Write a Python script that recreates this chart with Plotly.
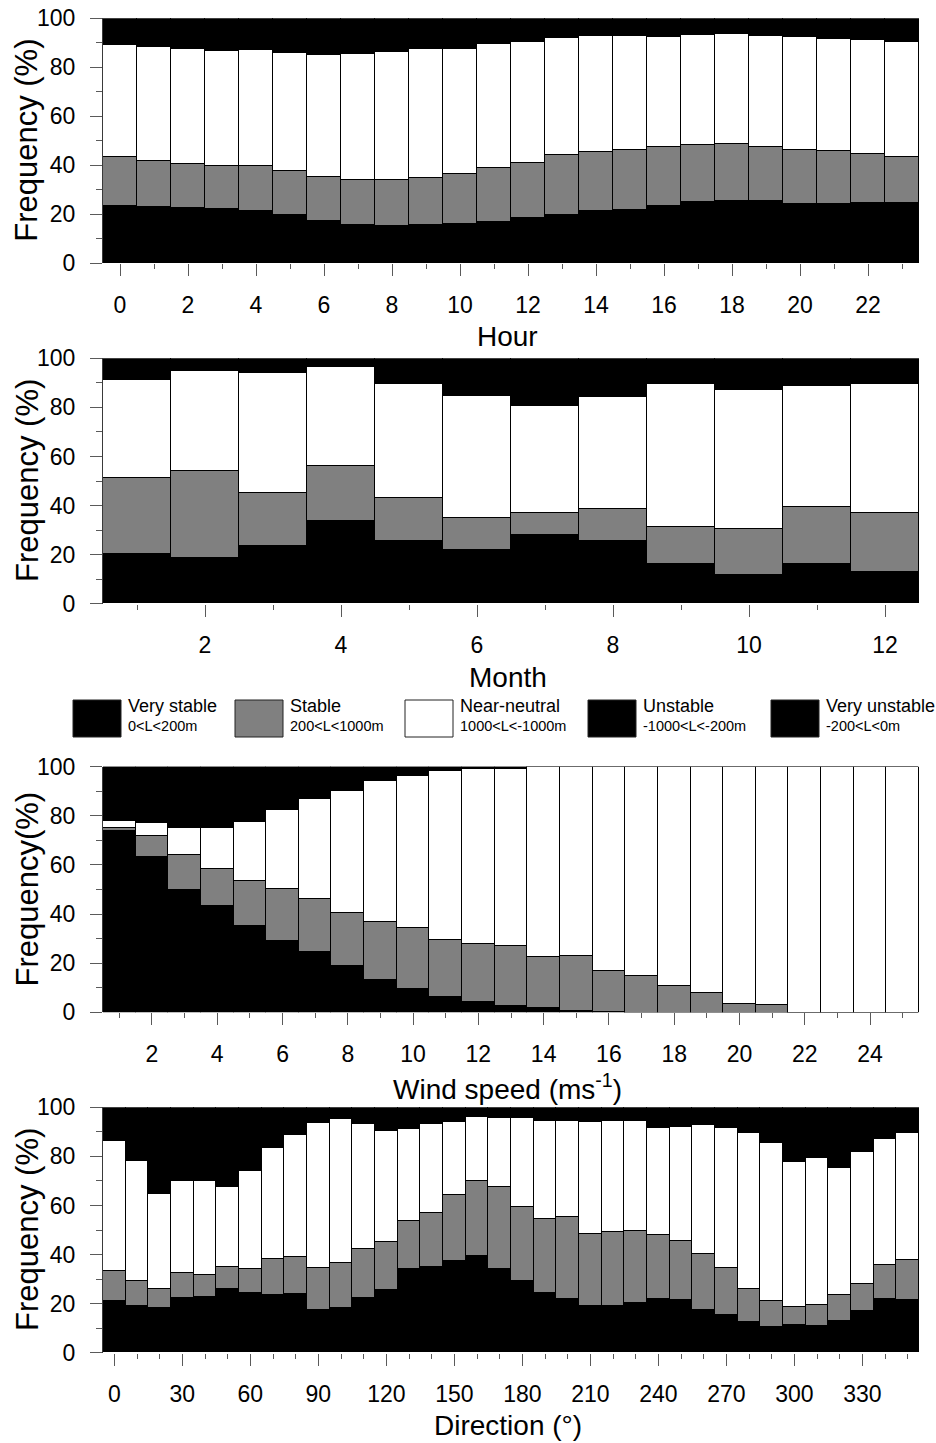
import plotly.graph_objects as go

# Stability classes (Obukhov length L) and their fills
CLASSES = ["Very stable", "Stable", "Near-neutral", "Unstable", "Very unstable"]
L_RANGES = ["0<L<200m", "200<L<1000m", "1000<L<-1000m", "-1000<L<-200m", "-200<L<0m"]
FILLS = ["#000000", "#808080", "#ffffff", "#000000", "#000000"]

# ---- Frequency (%) by hour of day ----
hours = list(range(24))
hour_very_stable = [23.1, 22.9, 22.6, 21.9, 21.4, 19.5, 17.1, 15.5, 15.0, 15.4, 15.9, 16.9,
                    18.4, 19.5, 21.2, 21.8, 23.3, 24.9, 25.2, 25.4, 24.2, 24.1, 24.6, 24.5]
hour_stable = [20.2, 18.9, 17.7, 17.7, 18.1, 18.1, 18.1, 18.4, 18.9, 19.3, 20.4, 21.7,
               22.4, 24.4, 24.0, 24.5, 23.9, 23.1, 23.2, 21.9, 21.8, 21.5, 19.9, 18.8]
hour_neutral = [45.8, 46.4, 47.2, 47.1, 47.6, 48.1, 49.6, 51.5, 52.1, 52.6, 51.2, 50.9,
                49.3, 47.8, 47.3, 46.5, 44.9, 44.9, 44.9, 45.5, 46.1, 45.7, 46.7, 47.0]
hour_unstable = [6.5, 7.0, 7.4, 7.9, 7.6, 8.5, 9.0, 8.7, 8.3, 7.5, 7.4, 6.2,
                 5.9, 4.9, 4.4, 4.3, 4.7, 4.2, 4.0, 4.3, 4.7, 5.2, 5.2, 5.8]
hour_very_unstable = [4.4, 4.8, 5.1, 5.4, 5.3, 5.8, 6.2, 5.9, 5.7, 5.2, 5.1, 4.3,
                      4.0, 3.4, 3.1, 2.9, 3.2, 2.9, 2.7, 2.9, 3.2, 3.5, 3.6, 3.9]

# ---- Frequency (%) by month ----
months = list(range(1, 13))
month_very_stable = [20.0, 18.5, 23.4, 33.7, 25.4, 21.7, 27.7, 25.3, 16.0, 11.7, 16.2, 13.0]
month_stable = [31.1, 35.4, 21.6, 22.3, 17.5, 13.1, 9.1, 13.0, 15.0, 18.6, 23.1, 23.7]
month_neutral = [39.8, 40.7, 49.0, 40.3, 46.4, 49.6, 43.6, 45.9, 58.4, 56.5, 49.3, 52.7]
month_unstable = [5.4, 3.2, 3.6, 2.2, 6.4, 9.3, 11.7, 9.4, 6.3, 7.9, 6.8, 6.3]
month_very_unstable = [3.7, 2.2, 2.4, 1.5, 4.3, 6.3, 7.9, 6.4, 4.3, 5.3, 4.6, 4.3]

# ---- Frequency (%) by wind speed (m/s) ----
speeds = list(range(1, 26))
speed_very_stable = [74.1, 63.5, 49.9, 43.3, 35.4, 29.2, 24.8, 19.0, 13.4, 9.6, 6.2, 4.4, 2.7,
                     1.9, 0.8, 0.3, 0.0, 0.0, 0.0, 0.0, 0.0, 0.0, 0.0, 0.0, 0.0]
speed_stable = [1.0, 8.4, 14.4, 15.3, 18.3, 21.1, 21.6, 21.7, 23.6, 24.9, 23.2, 23.6, 24.3,
                20.9, 22.4, 16.8, 14.8, 10.7, 8.1, 3.5, 3.3, 0.0, 0.0, 0.0, 0.0]
speed_neutral = [2.8, 5.2, 10.9, 16.7, 23.8, 32.2, 40.4, 49.7, 57.2, 61.7, 69.0, 71.0, 72.3,
                 77.2, 76.8, 82.9, 85.2, 89.3, 91.9, 96.5, 96.7, 100.0, 100.0, 100.0, 100.0]
speed_unstable = [13.2, 13.7, 14.8, 14.8, 13.5, 10.5, 7.9, 5.8, 3.5, 2.3, 1.0, 0.6, 0.4,
                  0.0, 0.0, 0.0, 0.0, 0.0, 0.0, 0.0, 0.0, 0.0, 0.0, 0.0, 0.0]
speed_very_unstable = [8.9, 9.2, 10.0, 9.9, 9.0, 7.0, 5.3, 3.8, 2.3, 1.5, 0.6, 0.4, 0.3,
                       0.0, 0.0, 0.0, 0.0, 0.0, 0.0, 0.0, 0.0, 0.0, 0.0, 0.0, 0.0]

# ---- Frequency (%) by wind direction (degrees) ----
directions = list(range(0, 360, 10))
dir_very_stable = [20.9, 19.0, 17.9, 22.0, 22.7, 26.0, 24.3, 23.4, 23.8, 17.4, 18.2, 22.0,
                   25.4, 34.0, 34.6, 37.4, 39.1, 34.0, 29.1, 24.2, 21.7, 18.8, 18.8, 20.0,
                   21.9, 21.2, 17.3, 15.4, 12.5, 10.2, 11.3, 10.7, 12.8, 16.8, 21.9, 21.5]
dir_stable = [12.4, 10.2, 7.8, 10.2, 8.8, 8.6, 9.8, 14.8, 14.9, 17.1, 18.3, 20.1,
              19.6, 19.7, 22.2, 26.9, 30.7, 33.3, 30.0, 30.3, 33.5, 29.4, 30.1, 29.5,
              25.8, 24.3, 22.9, 19.1, 13.3, 10.7, 7.2, 8.6, 10.4, 11.1, 13.6, 16.0]
dir_neutral = [53.0, 48.9, 39.0, 37.8, 38.5, 32.9, 39.9, 45.0, 49.9, 58.8, 58.5, 51.0,
               45.2, 37.3, 36.1, 29.6, 26.1, 28.4, 36.6, 39.9, 39.1, 45.7, 45.3, 44.8,
               43.9, 46.5, 52.3, 56.9, 63.6, 64.4, 59.2, 59.8, 52.1, 53.8, 51.6, 52.0]
dir_unstable = [8.2, 13.1, 21.2, 18.0, 18.0, 19.5, 15.6, 10.1, 6.8, 4.0, 3.0, 4.1,
                5.9, 5.4, 4.3, 3.7, 2.5, 2.6, 2.6, 3.4, 3.4, 3.7, 3.5, 3.4,
                5.0, 4.8, 4.5, 5.2, 6.4, 8.8, 13.4, 12.5, 14.8, 11.0, 7.7, 6.3]
dir_very_unstable = [5.5, 8.8, 14.1, 12.0, 12.0, 13.0, 10.4, 6.7, 4.6, 2.7, 2.0, 2.8,
                     3.9, 3.6, 2.8, 2.4, 1.6, 1.7, 1.7, 2.2, 2.3, 2.4, 2.3, 2.3,
                     3.4, 3.2, 3.0, 3.4, 4.2, 5.9, 8.9, 8.4, 9.9, 7.3, 5.2, 4.2]

W, H = 936, 1443
FONT = "Arial, Liberation Sans, Helvetica, sans-serif"
TICK_COLOR = "#5a5a5a"

X_DOMAIN = [103 / W, 919 / W]


def ydom(top_px, bottom_px):
    return [1 - bottom_px / H, 1 - top_px / H]


panels = [
    dict(x=hours, series=[hour_very_stable, hour_stable, hour_neutral, hour_unstable, hour_very_unstable],
         dom=ydom(18.3, 263.3), rng=[-0.5, 23.5], tick0=0, dtick=2, minor=1,
         xtitle="Hour", xtitle_y=336, ytitle="Frequency (%)"),
    dict(x=months, series=[month_very_stable, month_stable, month_neutral, month_unstable, month_very_unstable],
         dom=ydom(358.3, 603.7), rng=[0.5, 12.5], tick0=0, dtick=2, minor=1,
         xtitle="Month", xtitle_y=677, ytitle="Frequency (%)"),
    dict(x=speeds, series=[speed_very_stable, speed_stable, speed_neutral, speed_unstable, speed_very_unstable],
         dom=ydom(766.7, 1012.3), rng=[0.5, 25.5], tick0=0, dtick=2, minor=1,
         xtitle="Wind speed (ms<sup>-1</sup>)", xtitle_y=1087, ytitle="Frequency(%)"),
    dict(x=directions, series=[dir_very_stable, dir_stable, dir_neutral, dir_unstable, dir_very_unstable],
         dom=ydom(1107.3, 1352.7), rng=[-5, 355], tick0=0, dtick=30, minor=10,
         xtitle="Direction (°)", xtitle_y=1425, ytitle="Frequency (%)"),
]

fig = go.Figure()
layout = dict(
    template="none",
    width=W, height=H,
    margin=dict(l=0, r=0, t=0, b=0, pad=0, autoexpand=False),
    paper_bgcolor="white", plot_bgcolor="white",
    barmode="stack", bargap=0,
    showlegend=False,
    font=dict(family=FONT, color="black"),
)
annotations = []
shapes = []

for i, p in enumerate(panels, start=1):
    xa = "x" if i == 1 else f"x{i}"
    ya = "y" if i == 1 else f"y{i}"
    for k, vals in enumerate(p["series"]):
        fig.add_trace(go.Bar(
            x=p["x"], y=vals, name=CLASSES[k],
            marker=dict(color=FILLS[k], line=dict(color="#000000", width=1.1)),
            xaxis=xa, yaxis=ya, hoverinfo="x+y+name",
        ))
    layout["xaxis" if i == 1 else f"xaxis{i}"] = dict(
        domain=X_DOMAIN, anchor=ya, range=p["rng"], automargin=False,
        tickmode="linear", tick0=p["tick0"], dtick=p["dtick"],
        ticks="outside", ticklen=12, tickwidth=1, tickcolor=TICK_COLOR,
        minor=dict(ticks="outside", ticklen=5, tickwidth=1, tickcolor=TICK_COLOR,
                   tickmode="linear", tick0=p["tick0"], dtick=p["minor"], showgrid=False),
        ticklabelstandoff=9,
        tickfont=dict(size=23, family=FONT, color="black"),
        showgrid=False, zeroline=False, showline=False, fixedrange=True,
    )
    layout["yaxis" if i == 1 else f"yaxis{i}"] = dict(
        domain=p["dom"], anchor=xa, range=[0, 100], automargin=False,
        tickmode="linear", tick0=0, dtick=20,
        ticks="outside", ticklen=12, tickwidth=1, tickcolor=TICK_COLOR,
        minor=dict(ticks="outside", ticklen=6, tickwidth=1, tickcolor=TICK_COLOR,
                   tickmode="linear", tick0=0, dtick=10, showgrid=False),
        ticklabelstandoff=10,
        tickfont=dict(size=23, family=FONT, color="black"),
        showgrid=False, zeroline=False, showline=True, linecolor="#3a3a3a", linewidth=1,
        fixedrange=True,
    )
    # axis titles
    annotations.append(dict(
        text=p["xtitle"], x=508 / W, y=1 - p["xtitle_y"] / H, xref="paper", yref="paper",
        xanchor="center", yanchor="middle", showarrow=False,
        font=dict(size=28, family=FONT, color="black"),
    ))
    ycenter = (p["dom"][0] + p["dom"][1]) / 2
    annotations.append(dict(
        text=p["ytitle"], x=27 / W, y=ycenter, xref="paper", yref="paper",
        xanchor="center", yanchor="middle", textangle=-90, showarrow=False,
        font=dict(size=31, family=FONT, color="black"),
    ))

# Key of stability classes between the month and wind-speed panels
key_left = [73, 235, 405, 588, 771]
for k in range(5):
    x0 = key_left[k]
    shapes.append(dict(
        type="rect", xref="paper", yref="paper",
        x0=x0 / W, x1=(x0 + 48) / W, y0=1 - 737 / H, y1=1 - 700 / H,
        fillcolor=FILLS[k], line=dict(color="#222222", width=1),
    ))
    annotations.append(dict(
        text=CLASSES[k], x=(x0 + 53) / W, y=1 - 706 / H, xref="paper", yref="paper",
        xanchor="left", yanchor="middle", showarrow=False,
        font=dict(size=18, family=FONT, color="black"),
    ))
    annotations.append(dict(
        text=L_RANGES[k].replace("<", "&lt;"), x=(x0 + 53) / W, y=1 - 726 / H,
        xref="paper", yref="paper", xanchor="left", yanchor="middle", showarrow=False,
        font=dict(size=14.5, family=FONT, color="black"),
    ))

layout["annotations"] = annotations
layout["shapes"] = shapes
fig.update_layout(**layout)

fig.write_html("out.html")
